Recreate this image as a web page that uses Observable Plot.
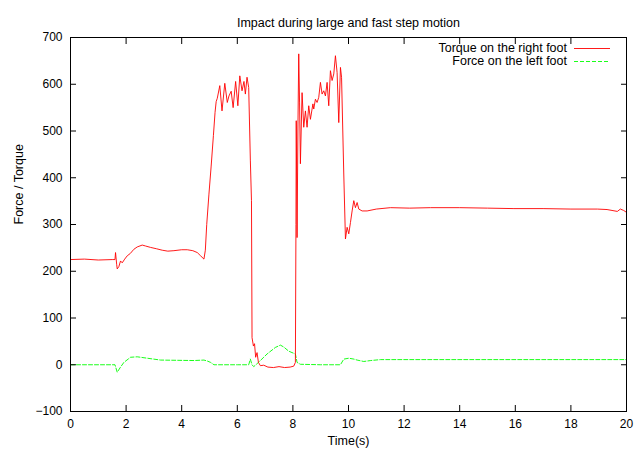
<!DOCTYPE html>
<html><head><meta charset="utf-8">
<script src="https://cdn.jsdelivr.net/npm/d3@7"></script>
<script src="https://cdn.jsdelivr.net/npm/@observablehq/plot@0.6"></script>
<style>
body{margin:0;background:#fff;}
#wrap{position:relative;width:636px;height:454px;font-family:"Liberation Sans",Arial,sans-serif;color:#000;}
#legend{position:absolute;left:0;top:42px;width:636px;font-size:12.5px;}
#legend .row{display:flex;justify-content:flex-end;align-items:center;height:13px;line-height:13px;padding-right:26px;}
#legend .row svg{margin-left:7px;}
</style></head><body><div id="wrap"></div>
<script>
const title = "Impact during large and fast step motion";
const xLabel = "Time(s)";
const yLabel = "Force / Torque";
const seriesNames = ["Torque on the right foot", "Force on the left foot"];
const xTicks = [0,2,4,6,8,10,12,14,16,18,20];
const yTicks = [-100,0,100,200,300,400,500,600,700];

const torqueTime = [0,0.5,1.0,1.5,1.6,1.62,1.66,1.68,1.74,1.80,1.86,1.95,2.04,2.15,2.28,2.4,2.58,2.7,2.88,3.1,3.3,3.5,3.72,4.0,4.2,4.4,4.56,4.68,4.8,4.85,4.9,4.98,5.06,5.14,5.2,5.24,5.28,5.37,5.45,5.55,5.64,5.70,5.78,5.85,5.94,6.02,6.09,6.17,6.24,6.29,6.35,6.41,6.47,6.51,6.53,6.58,6.62,6.66,6.71,6.76,6.83,6.95,7.1,7.3,7.5,7.7,7.9,8.03,8.09,8.11,8.12,8.15,8.18,8.21,8.24,8.27,8.33,8.39,8.45,8.51,8.57,8.63,8.72,8.75,8.81,8.87,8.93,8.99,9.05,9.11,9.17,9.23,9.29,9.35,9.41,9.47,9.53,9.59,9.65,9.71,9.75,9.83,9.89,9.95,10.01,10.07,10.13,10.19,10.25,10.31,10.37,10.49,10.67,11.0,11.51,12.2,12.95,14,15.0,15.95,17,18.0,18.95,19.3,19.67,19.78,19.9,20];
const torqueValue = [225,226,224,225,225,240,215,205,210,222,218,226,233,238,247,252,256,254,251,248,245,243,244,246,246,244,240,233,226,245,300,365,425,490,540,563,570,597,543,602,561,575,585,550,606,554,618,586,606,579,615,593,436,351,58,40,45,16,26,5,-2,-1,-5,-6,-4,-6,-5,-3,5,300,522,272,500,665,560,430,582,508,543,508,554,525,558,547,568,561,572,604,579,586,575,604,554,629,608,622,661,625,518,636,615,408,269,294,280,304,329,351,336,347,333,329,329,333,336,335,336,336,335,334,334,333,333,332,328,333,330,326];

const forceTime = [0,1.6,1.68,1.8,1.92,2.16,2.4,2.76,3.24,4.44,4.8,4.92,5.04,5.16,5.5,6.0,6.41,6.47,6.53,6.59,6.65,6.83,7.07,7.37,7.55,7.67,7.85,8.09,8.15,8.27,9.0,9.5,9.71,9.83,10.01,10.2,10.31,10.55,10.8,11.15,20];
const forceValue = [0,0,-16,-5,5,16,17,14,10,9,10,8,5,0,0,0,0,12,0,-4,-1,9,23,37,42,38,29,23,5,1,0,0,0,12,14,12,10,7,9,11,11];

const torque = torqueTime.map((t,i)=>({t, v: torqueValue[i]}));
const force = forceTime.map((t,i)=>({t, v: forceValue[i]}));

const chart = Plot.plot({
  width: 636, height: 454,
  marginLeft: 70, marginRight: 10, marginTop: 37, marginBottom: 43,
  style: {fontFamily: '"Liberation Sans", Arial, sans-serif', fontSize: "12px", background: "#fff", color: "#000"},
  x: {domain: [0,20], label: null},
  y: {domain: [-100,700], label: null},
  marks: [
    Plot.line(force, {x: "t", y: "v", stroke: "#00ff00", strokeWidth: 0.9, strokeDasharray: "4,2"}),
    Plot.line(torque, {x: "t", y: "v", stroke: "#ff0000", strokeWidth: 0.9}),
    Plot.frame({stroke: "#000"}),
    Plot.axisX(xTicks, {anchor: "bottom", tickSize: -6, fill: "none", label: null}),
    Plot.axisX(xTicks, {anchor: "top", tickSize: -6, fill: "none", label: null}),
    Plot.axisY(yTicks, {anchor: "left", tickSize: -6, fill: "none", label: null}),
    Plot.axisY(yTicks, {anchor: "right", tickSize: -6, fill: "none", label: null}),
    Plot.axisX(xTicks, {anchor: "bottom", tickSize: 0, tickPadding: 8, label: null}),
    Plot.axisY(yTicks, {anchor: "left", tickSize: 0, tickPadding: 8, label: null}),
    Plot.text([title], {frameAnchor: "top", dy: -19, fontSize: 12.5}),
    Plot.text([xLabel], {frameAnchor: "bottom", dy: 33, fontSize: 12.5}),
    Plot.text([yLabel], {frameAnchor: "left", dx: -52, rotate: -90, fontSize: 12.5})
  ]
});
const wrap = document.getElementById("wrap");
wrap.appendChild(chart);

const legend = document.createElement("div");
legend.id = "legend";
const colors = ["#ff0000", "#00ff00"];
const dashes = [null, "4,2"];
seriesNames.forEach((name, i) => {
  const row = document.createElement("div");
  row.className = "row";
  const span = document.createElement("span");
  span.textContent = name;
  row.appendChild(span);
  const svg = document.createElementNS("http://www.w3.org/2000/svg", "svg");
  svg.setAttribute("width", "36"); svg.setAttribute("height", "13");
  const ln = document.createElementNS("http://www.w3.org/2000/svg", "line");
  ln.setAttribute("x1", "0"); ln.setAttribute("x2", "36");
  ln.setAttribute("y1", "6.5"); ln.setAttribute("y2", "6.5");
  ln.setAttribute("stroke", colors[i]);
  ln.setAttribute("stroke-width", "0.9");
  if (dashes[i]) ln.setAttribute("stroke-dasharray", dashes[i]);
  svg.appendChild(ln);
  row.appendChild(svg);
  legend.appendChild(row);
});
wrap.appendChild(legend);
</script></body></html>
